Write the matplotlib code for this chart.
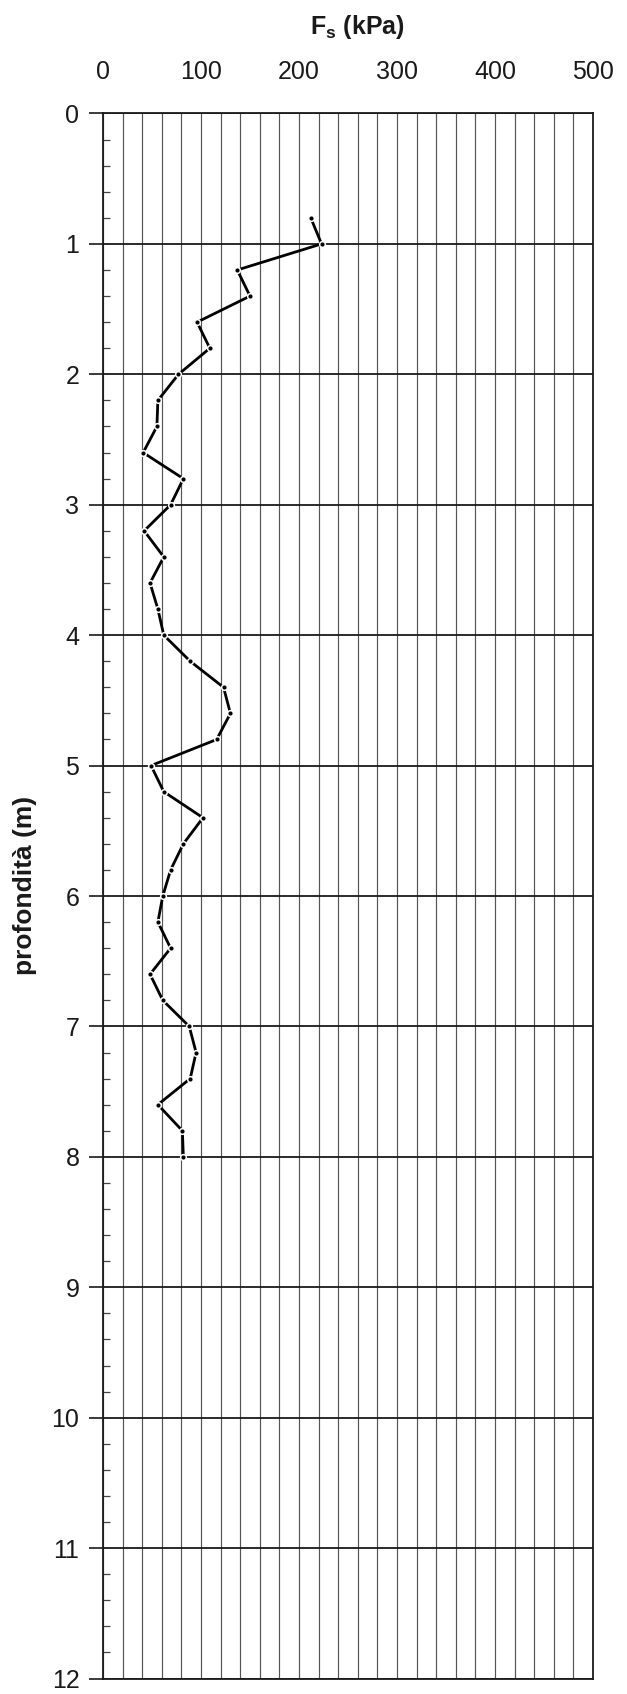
import matplotlib
matplotlib.use("Agg")
import matplotlib.pyplot as plt
from matplotlib.ticker import MultipleLocator

plt.rcParams['font.family'] = ['Liberation Sans', 'DejaVu Sans']
plt.rcParams['mathtext.fontset'] = 'custom'
plt.rcParams['mathtext.rm'] = 'Liberation Sans'
plt.rcParams['mathtext.bf'] = 'Liberation Sans:bold'

# Sleeve friction profile (depth in m, Fs in kPa)
depth = [0.8, 1.0, 1.2, 1.4, 1.6, 1.8, 2.0, 2.2, 2.4, 2.6,
         2.8, 3.0, 3.2, 3.4, 3.6, 3.8, 4.0, 4.2, 4.4, 4.6,
         4.8, 5.0, 5.2, 5.4, 5.6, 5.8, 6.0, 6.2, 6.4, 6.6,
         6.8, 7.0, 7.2, 7.4, 7.6, 7.8, 8.0]
fs = [212, 223, 137, 150, 96, 109, 77, 56, 55, 41,
      82, 69, 42, 62, 48, 56, 62, 89, 123, 130,
      116, 49, 62, 102, 82, 69, 61, 56, 69, 48,
      61, 88, 95, 89, 56, 81, 82]

x_ticks = [0, 100, 200, 300, 400, 500]
y_ticks = list(range(0, 13))

W, H = 627, 1694
fig = plt.figure(figsize=(W / 100, H / 100), dpi=100)
left, right, top, bottom = 103, 593, 113.5, 1678.5
ax = fig.add_axes([left / W, 1 - bottom / H, (right - left) / W, (bottom - top) / H])

ink = '#1a1a1a'

ax.set_xlim(0, 500)
ax.set_ylim(12, 0)
ax.xaxis.tick_top()
ax.set_xticks(x_ticks)
ax.xaxis.set_minor_locator(MultipleLocator(20))
ax.set_yticks(y_ticks)
ax.yaxis.set_minor_locator(MultipleLocator(0.2))

ax.tick_params(axis='x', which='both', length=0, pad=21, labelsize=18, labelcolor=ink)
ax.tick_params(axis='y', which='major', direction='out', length=10, width=1.2,
               color=ink, pad=7, labelsize=18, labelcolor=ink, right=False)
ax.tick_params(axis='y', which='minor', direction='in', length=5, width=0.9,
               color='#444444', right=False)

ax.grid(axis='x', which='both', color='#555555', linewidth=0.85)
ax.grid(axis='y', which='major', color=ink, linewidth=1.3)
for s in ax.spines.values():
    s.set_color(ink)
    s.set_linewidth(1.3)

# profile line with small gaps around each reading
ax.plot(fs, depth, color='black', linewidth=2.0, zorder=3, clip_on=False)
ax.plot(fs, depth, linestyle='none', marker='o', markersize=5.2,
        markerfacecolor='white', markeredgewidth=0, zorder=4)
ax.plot(fs, depth, linestyle='none', marker='o', markersize=3.0,
        markerfacecolor='black', markeredgewidth=0, zorder=5)

fig.text(357 / W, 1 - 27 / H, r'$\mathbf{F_s}$ (kPa)', ha='center', va='center',
         fontsize=18, fontweight='bold', color=ink)
fig.text(25 / W, 1 - 885 / H, 'profondità (m)', ha='center', va='center',
         rotation=90, fontsize=19, fontweight='bold', color=ink)

fig.savefig('out.png', dpi=100, facecolor='white')
